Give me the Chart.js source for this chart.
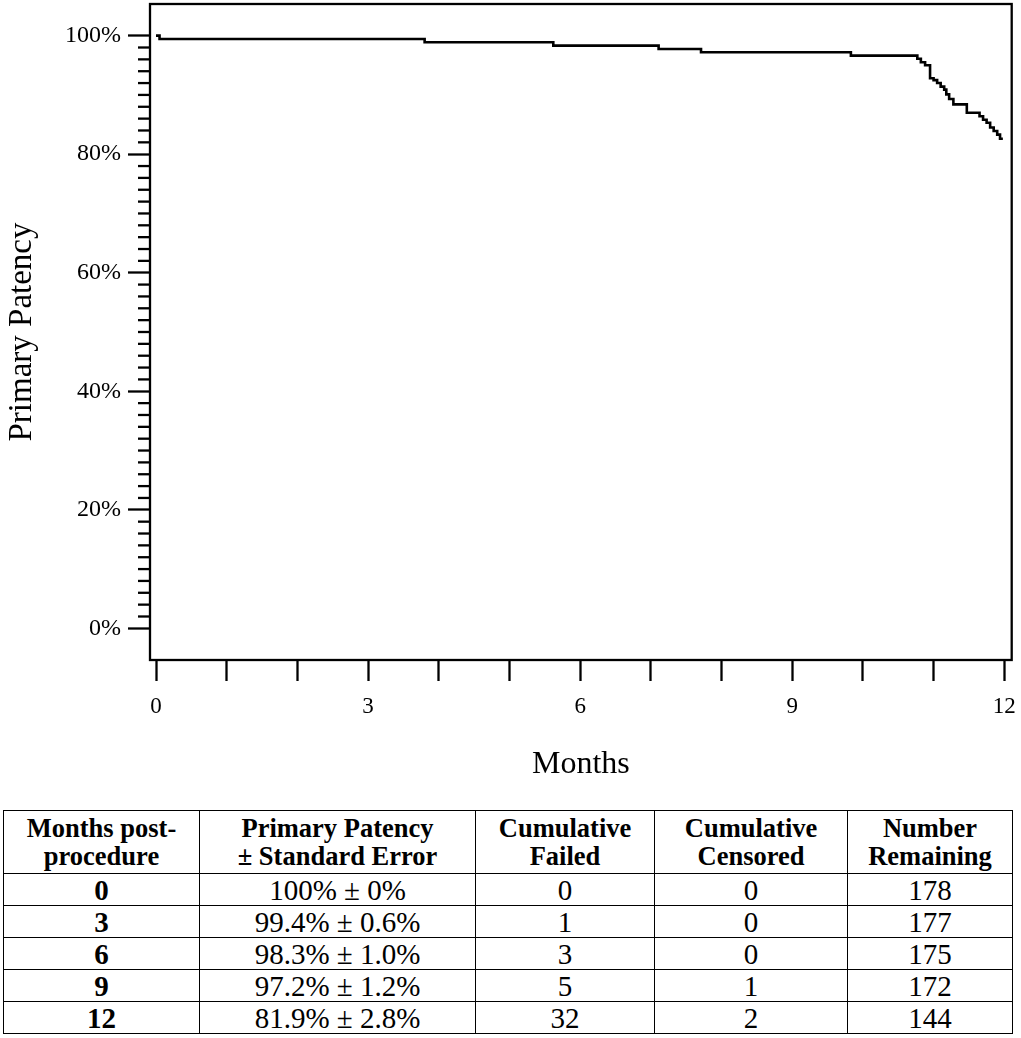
<!DOCTYPE html>
<html lang="en">

<head>
    <meta charset="UTF-8">
    <title>Primary Patency</title>
    <style>
        body { margin: 0; background: #fff; font-family: "Liberation Serif", "Times New Roman", serif; }
        #chartBox { position: absolute; left: 0; top: 0; width: 1021px; height: 790px; }
        #patencyTable {
            position: absolute; left: 3px; top: 810px; width: 1009px; height: 224px;
            border-collapse: collapse; font-size: 29px; color: #000; table-layout: fixed;
        }
        #patencyTable td, #patencyTable th {
            border: 1.5px solid #000; text-align: center; padding: 0; line-height: 30px;
        }
        #patencyTable th { height: 62px; font-size: 26.5px; line-height: 28px; }
        #patencyTable td { height: 31px; }
        #patencyTable td.first { font-weight: bold; }
    </style>
</head>

<body>
    <div id="chartBox">
        <canvas id="myChart"></canvas>
    </div>
    <table id="patencyTable"></table>

    <script src="https://cdn.jsdelivr.net/npm/chart.js/dist/chart.min.js"></script>
    <script>
        // Kaplan-Meier curve (months, % patent)
        const kmMonths = [0, 0.05, 3.80, 5.62, 7.11, 7.71, 9.83, 10.77, 10.82, 10.88, 10.95, 11.00, 11.05,
            11.10, 11.15, 11.18, 11.22, 11.28, 11.47, 11.65, 11.70, 11.75, 11.80, 11.85, 11.90, 11.94, 11.98];
        const kmPatency = [100, 99.44, 98.88, 98.31, 97.75, 97.19, 96.63, 96.1, 95.5, 95.0, 92.8, 92.5, 92.0,
            91.4, 90.9, 90.1, 89.3, 88.4, 87.0, 86.4, 85.8, 85.3, 84.5, 83.9, 83.3, 82.6, 82.6];

        const xTicks = [0, 1, 2, 3, 4, 5, 6, 7, 8, 9, 10, 11, 12];
        const xLabelEvery = 3;
        const yTicks = [0, 20, 40, 60, 80, 100];
        const yMinorStep = 2;

        // summary table
        const tableHeaders = ['Months post-<br>procedure', 'Primary Patency<br>± Standard Error',
            'Cumulative<br>Failed', 'Cumulative<br>Censored', 'Number<br>Remaining'];
        const tableMonths = [0, 3, 6, 9, 12];
        const tablePatency = ['100% ± 0%', '99.4% ± 0.6%', '98.3% ± 1.0%', '97.2% ± 1.2%', '81.9% ± 2.8%'];
        const tableFailed = [0, 1, 3, 5, 32];
        const tableCensored = [0, 0, 0, 1, 2];
        const tableRemaining = [178, 177, 175, 172, 144];
        const colWidths = [196, 276, 179, 193, 165];

        const serif = '"Liberation Serif", "Times New Roman", serif';

        const table = document.getElementById('patencyTable');
        let html = '<colgroup>' + colWidths.map(w => '<col style="width:' + w + 'px">').join('') + '</colgroup>';
        html += '<tr>' + tableHeaders.map(h => '<th>' + h + '</th>').join('') + '</tr>';
        tableMonths.forEach((m, i) => {
            html += '<tr><td class="first">' + m + '</td><td>' + tablePatency[i] + '</td><td>' + tableFailed[i] +
                '</td><td>' + tableCensored[i] + '</td><td>' + tableRemaining[i] + '</td></tr>';
        });
        table.innerHTML = html;

        const framePlugin = {
            id: 'frame',
            afterDraw(chart) {
                const { ctx, chartArea } = chart;
                const y = chart.scales.y;
                ctx.save();
                ctx.strokeStyle = '#000';
                ctx.lineWidth = 2.3;
                ctx.strokeRect(chartArea.left, chartArea.top, chartArea.right - chartArea.left, chartArea.bottom - chartArea.top);
                // minor ticks on the y axis
                for (let v = yTicks[0]; v <= yTicks[yTicks.length - 1]; v += yMinorStep) {
                    if (v % 20 === 0) continue;
                    const py = y.getPixelForValue(v);
                    ctx.beginPath();
                    ctx.moveTo(chartArea.left - 12, py);
                    ctx.lineTo(chartArea.left, py);
                    ctx.stroke();
                }
                ctx.restore();
            }
        };

        const config = {
            type: 'line',
            data: {
                datasets: [{
                    label: 'Primary Patency',
                    data: kmMonths.map((m, i) => ({ x: m, y: kmPatency[i] })),
                    borderColor: '#000',
                    borderWidth: 2.6,
                    stepped: 'before',
                    pointRadius: 0,
                    fill: false
                }]
            },
            options: {
                responsive: true,
                maintainAspectRatio: false,
                animation: false,
                layout: { padding: { top: 4, right: 9.3, bottom: 0, left: 0 } },
                plugins: {
                    legend: { display: false },
                    tooltip: { enabled: false }
                },
                scales: {
                    x: {
                        type: 'linear',
                        min: -0.085,
                        max: 12.105,
                        afterBuildTicks: axis => { axis.ticks = xTicks.map(v => ({ value: v })); },
                        afterFit: axis => {
                            axis.height = 130;
                            axis.paddingLeft = 0;
                            axis.paddingRight = 0;
                        },
                        ticks: {
                            autoSkip: false,
                            maxRotation: 0,
                            padding: 12,
                            color: '#000',
                            font: { family: serif, size: 23 },
                            callback: v => (v % xLabelEvery === 0 ? String(v) : '')
                        },
                        grid: {
                            drawOnChartArea: false,
                            tickLength: 21,
                            tickWidth: 2.3,
                            tickColor: '#000'
                        },
                        border: { display: false },
                        title: {
                            display: true,
                            text: 'Months',
                            color: '#000',
                            font: { family: serif, size: 32 },
                            padding: { top: 0, bottom: 6 }
                        }
                    },
                    y: {
                        min: -5.34,
                        max: 105.34,
                        afterBuildTicks: axis => { axis.ticks = yTicks.map(v => ({ value: v })); },
                        afterFit: axis => {
                            axis.width = 150;
                            axis.paddingTop = 0;
                            axis.paddingBottom = 0;
                        },
                        ticks: {
                            padding: 7,
                            color: '#000',
                            font: { family: serif, size: 24 },
                            callback: v => v + '%'
                        },
                        grid: {
                            drawOnChartArea: false,
                            tickLength: 22,
                            tickWidth: 2.3,
                            tickColor: '#000'
                        },
                        border: { display: false },
                        title: {
                            display: true,
                            text: 'Primary Patency',
                            color: '#000',
                            font: { family: serif, size: 33 },
                            padding: { top: 3, bottom: 0 }
                        }
                    }
                }
            },
            plugins: [framePlugin]
        };

        const myChart = new Chart(document.getElementById('myChart'), config);
    </script>
</body>

</html>
